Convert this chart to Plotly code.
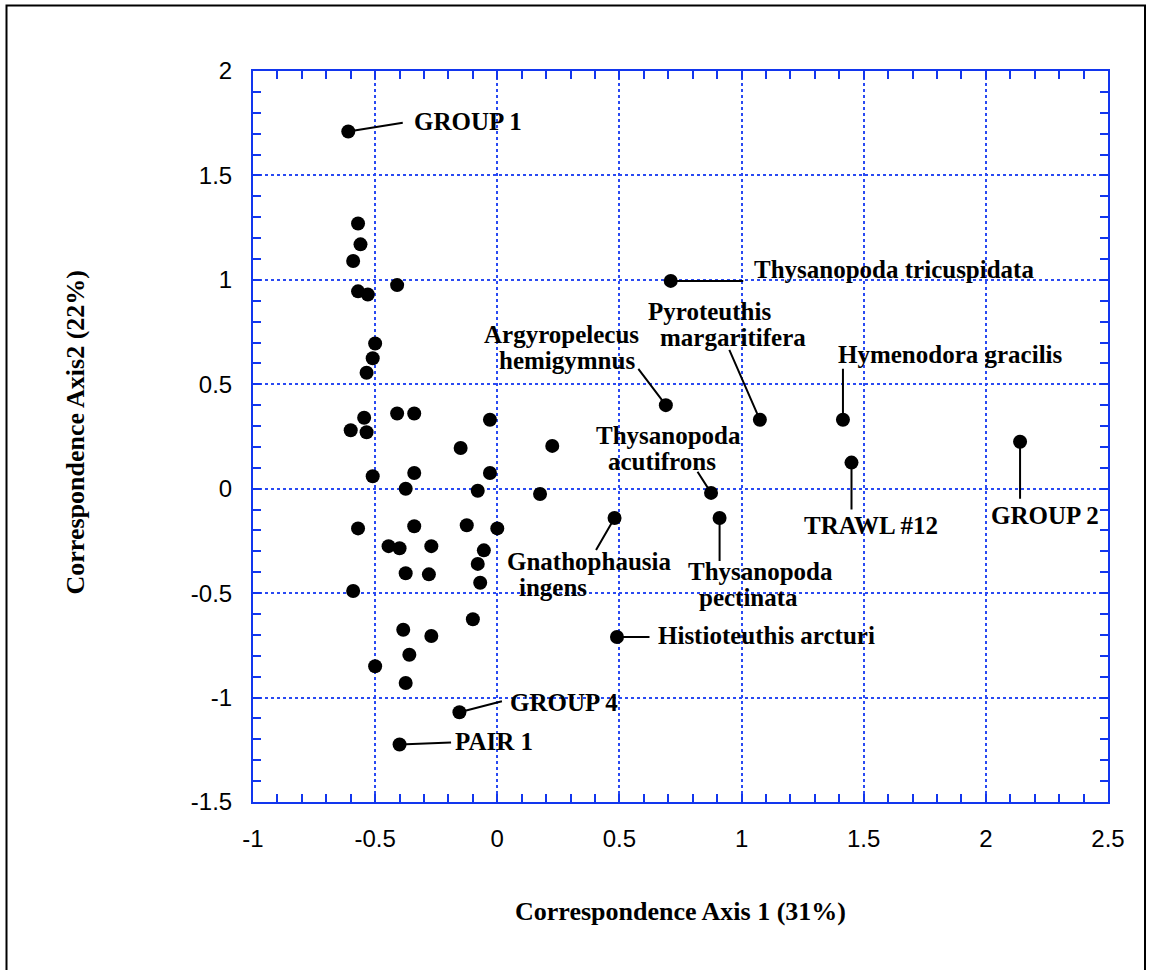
import plotly.graph_objects as go

# Sample scores on the first two correspondence axes (unlabelled points)
score_axis1 = [-0.57, -0.56, -0.59, -0.57, -0.53, -0.41, -0.50, -0.51, -0.535, -0.545,
               -0.60, -0.535, -0.41, -0.34, -0.03, -0.15, 0.225, -0.51, -0.34, -0.03,
               -0.375, -0.08, 0.175, -0.57, -0.34, -0.125, 0.0, -0.445, -0.40, -0.27,
               -0.055, -0.08, -0.375, -0.28, -0.07, -0.59, -0.10, -0.385, -0.27, -0.36,
               -0.50, -0.375]
score_axis2 = [1.27, 1.17, 1.09, 0.945, 0.93, 0.975, 0.695, 0.625, 0.555, 0.34,
               0.28, 0.27, 0.36, 0.36, 0.33, 0.195, 0.205, 0.06, 0.075, 0.075,
               0.0, -0.01, -0.025, -0.19, -0.18, -0.175, -0.19, -0.275, -0.285, -0.275,
               -0.295, -0.36, -0.405, -0.41, -0.45, -0.49, -0.625, -0.675, -0.705, -0.795,
               -0.85, -0.93]

# Named samples / taxa
label_names = ["GROUP 1", "Thysanopoda tricuspidata", "Argyropelecus hemigymnus",
               "Pyroteuthis margaritifera", "Hymenodora gracilis", "TRAWL #12", "GROUP 2",
               "Thysanopoda acutifrons", "Thysanopoda pectinata", "Gnathophausia ingens",
               "Histioteuthis arcturi", "GROUP 4", "PAIR 1"]
label_axis1 = [-0.61, 0.71, 0.69, 1.075, 1.415, 1.45, 2.14, 0.875, 0.91, 0.48, 0.49, -0.155, -0.40]
label_axis2 = [1.71, 0.995, 0.40, 0.33, 0.33, 0.125, 0.225, -0.02, -0.14, -0.14, -0.71, -1.07, -1.225]

x_ticks = [-1, -0.5, 0, 0.5, 1, 1.5, 2, 2.5]
y_ticks = [-1.5, -1, -0.5, 0, 0.5, 1, 1.5, 2]

# Label placement in pixels relative to each point:
# "lead" = end of the leader line, "text" = centre of each text line (+y is down)
LABEL_LAYOUT = {
    "GROUP 1": {"lead": (55, -9), "text": [(120, -10)]},
    "Thysanopoda tricuspidata": {"lead": (73, 0), "text": [(223, -11)]},
    "Argyropelecus hemigymnus": {"lead": (-28, -37), "text": [(-104, -71), (-99, -45)]},
    "Pyroteuthis margaritifera": {"lead": (-31, -71), "text": [(-50, -108), (-27, -82)]},
    "Hymenodora gracilis": {"lead": (0, -52), "text": [(108, -65)]},
    "TRAWL #12": {"lead": (0, 48), "text": [(19, 63)]},
    "GROUP 2": {"lead": (0, 58), "text": [(25, 74)]},
    "Thysanopoda acutifrons": {"lead": (-14, -22), "text": [(-43, -57), (-49, -31)]},
    "Thysanopoda pectinata": {"lead": (0, 44), "text": [(41, 54), (29, 80)]},
    "Gnathophausia ingens": {"lead": (-19, 33), "text": [(-26, 44), (-62, 70)]},
    "Histioteuthis arcturi": {"lead": (33, 0), "text": [(150, -2)]},
    "GROUP 4": {"lead": (43, -11), "text": [(105, -10)]},
    "PAIR 1": {"lead": (52, -2), "text": [(94, -3)]},
}

BLUE_AXIS = "#1236ee"
BLUE_GRID = "#2a4af2"
SERIF = "Liberation Serif, Times New Roman, serif"
SANS = "Liberation Sans, Arial, Helvetica, sans-serif"

W, H = 1151, 970
M_L, M_R, M_T, M_B = 253, 43, 71, 168
PW, PH = W - M_L - M_R, H - M_T - M_B

fig = go.Figure()
fig.add_trace(go.Scatter(
    x=score_axis1 + label_axis1, y=score_axis2 + label_axis2,
    mode="markers", marker=dict(size=14, color="black", line=dict(width=0)),
    hoverinfo="x+y", showlegend=False,
))

annotations = []
for name, px, py in zip(label_names, label_axis1, label_axis2):
    spec = LABEL_LAYOUT[name]
    dx, dy = spec["lead"]
    annotations.append(dict(
        x=px, y=py, xref="x", yref="y", text=" ", font=dict(size=1),
        showarrow=True, arrowhead=0, arrowwidth=2, arrowcolor="black",
        ax=dx, ay=dy, axref="pixel", ayref="pixel", standoff=0, borderpad=0,
    ))
    lines = [name] if len(spec["text"]) == 1 else name.split(" ", 1)
    for line, (tx, ty) in zip(lines, spec["text"]):
        annotations.append(dict(
            x=px, y=py, xref="x", yref="y", text=line, showarrow=False,
            xshift=tx, yshift=-ty, xanchor="center", yanchor="middle",
            font=dict(family=SERIF, size=25, color="black", weight="bold"),
        ))

# Axis titles
annotations.append(dict(
    x=0.5, y=0, xref="paper", yref="paper", text="Correspondence Axis 1 (31%)",
    showarrow=False, xanchor="center", yanchor="middle", yshift=-109,
    font=dict(family=SERIF, size=26, color="black", weight="bold"),
))
annotations.append(dict(
    x=0, y=0.5, xref="paper", yref="paper", text="Correspondence Axis2 (22%)",
    showarrow=False, xanchor="center", yanchor="middle", textangle=-90,
    xshift=-178, yshift=4,
    font=dict(family=SERIF, size=26, color="black", weight="bold"),
))

axis_common = dict(
    showline=True, linecolor=BLUE_AXIS, linewidth=2, mirror="ticks",
    ticks="inside", ticklen=8, tickwidth=2, tickcolor=BLUE_AXIS,
    showgrid=True, gridcolor=BLUE_GRID, gridwidth=1.5, griddash="dot",
    zeroline=False, tickfont=dict(family=SANS, size=24, color="black"),
    minor=dict(ticks="inside", ticklen=8, tickwidth=2, tickcolor=BLUE_AXIS,
               dtick=0.1, showgrid=False),
)

fig.update_xaxes(range=[-1, 2.5], tickvals=x_ticks, ticktext=[f"{v:g}" for v in x_ticks],
                 ticklabelstandoff=14, **axis_common)
fig.update_yaxes(range=[-1.5, 2], tickvals=y_ticks, ticktext=[f"{v:g}" for v in y_ticks],
                 ticklabelstandoff=14, **axis_common)

# Outer frame around the whole figure (bottom edge runs off the page)
frame_left, frame_right, frame_top, frame_bottom = 6.5, 1145, 5.5, H + 10
fig.update_layout(
    width=W, height=H, margin=dict(l=M_L, r=M_R, t=M_T, b=M_B),
    paper_bgcolor="white", plot_bgcolor="white",
    annotations=annotations,
    shapes=[dict(type="rect", xref="paper", yref="paper",
                 x0=(frame_left - M_L) / PW, x1=(frame_right - M_L) / PW,
                 y0=(H - M_B - frame_bottom) / PH, y1=(H - M_B - frame_top) / PH,
                 line=dict(color="black", width=2), fillcolor="rgba(0,0,0,0)", layer="below")],
)

fig.write_html("out.html")
